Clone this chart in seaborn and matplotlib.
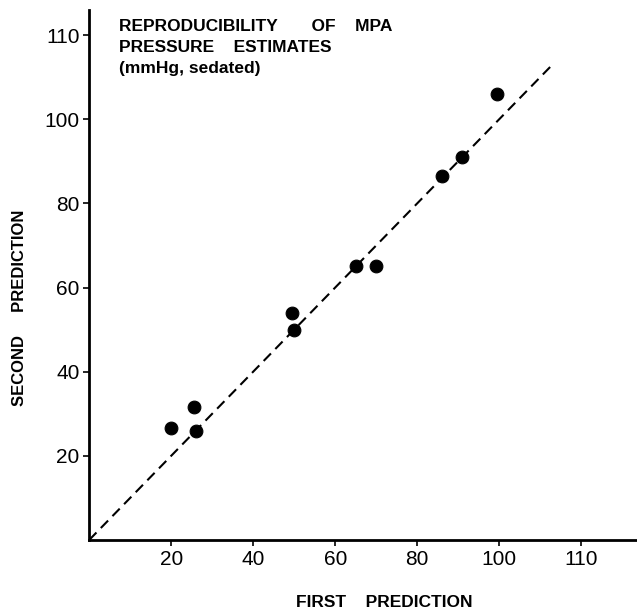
import numpy as np
import pandas as pd
import matplotlib.pyplot as plt
import seaborn as sns

# Pairs of MPA pressure estimates (mmHg, sedated)
first_prediction = [20, 25.5, 26, 49.5, 50, 65, 70, 86, 91, 99.5]
second_prediction = [26.5, 31.5, 26, 54, 50, 65, 65, 86.5, 91, 106]

# identity line
identity_x = [0, 113]
identity_y = [0, 113]

# tick positions and labels (the last label sits at the 120 position in the original)
tick_pos = [20, 40, 60, 80, 100, 120]
tick_labels = ["20", "40", "60", "80", "100", "110"]

df = pd.DataFrame({"First": first_prediction, "Second": second_prediction})

sns.set_style("ticks")
plt.rcParams['font.family'] = ['Liberation Sans', 'DejaVu Sans']
plt.rcParams['text.color'] = 'black'
plt.rcParams['xtick.color'] = 'black'
plt.rcParams['ytick.color'] = 'black'
plt.rcParams['axes.edgecolor'] = 'black'

fig = plt.figure(figsize=(6.37, 6.15), dpi=100)
ax = fig.add_axes([0.14, 0.122, 0.86, 0.862])

sns.lineplot(x=identity_x, y=identity_y, ax=ax, color="black", linestyle=(0, (5, 3)), linewidth=1.5)
sns.scatterplot(data=df, x="First", y="Second", ax=ax, color="black", s=85, edgecolor="black", zorder=3)

ax.set_xlim(0, 133.6)
ax.set_ylim(0, 126)
ax.set_xticks(tick_pos, tick_labels, fontsize=15)
ax.set_yticks(tick_pos, tick_labels, fontsize=15)
ax.tick_params(direction="out", length=4, width=1.2, pad=3)
sns.despine(ax=ax)
for side in ["left", "bottom"]:
    ax.spines[side].set_linewidth(2)

ax.set_xlabel("")
ax.set_ylabel("")
fig.text(0.603, 0.021, "FIRST    PREDICTION", ha="center", va="center", fontsize=12.5, fontweight="bold")
fig.text(0.031, 0.499, "SECOND     PREDICTION", ha="center", va="center", rotation=90, fontsize=12, fontweight="bold")

ax.text(0.055, 0.982, "REPRODUCIBILITY       OF    MPA\nPRESSURE    ESTIMATES\n(mmHg, sedated)",
        transform=ax.transAxes, ha="left", va="top", fontsize=12.5, fontweight="bold", linespacing=1.5)

fig.savefig("out.png", dpi=100)
